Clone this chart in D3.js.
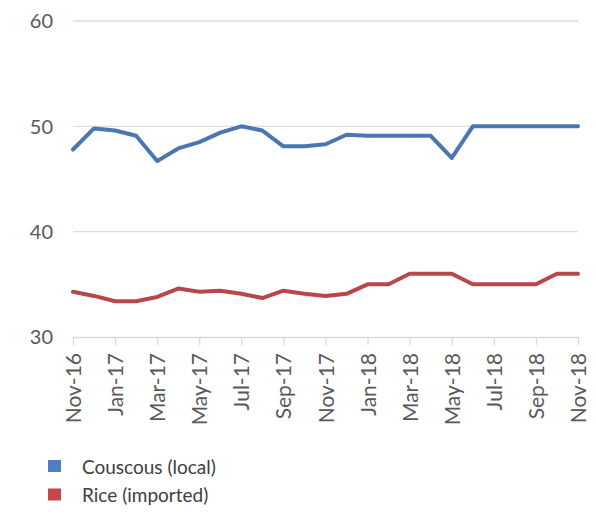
<!DOCTYPE html>
<html><head><meta charset="utf-8">
<script src="https://cdn.jsdelivr.net/npm/d3@7"></script>
<style>html,body{margin:0;padding:0;background:#fff;}svg{display:block;}</style>
</head><body>
<svg id="c" width="596" height="516"></svg>
<script>
const months = ["Nov-16","Dec-16","Jan-17","Feb-17","Mar-17","Apr-17","May-17","Jun-17","Jul-17","Aug-17","Sep-17","Oct-17","Nov-17","Dec-17","Jan-18","Feb-18","Mar-18","Apr-18","May-18","Jun-18","Jul-18","Aug-18","Sep-18","Oct-18","Nov-18"];
const couscous = [47.8,49.8,49.6,49.1,46.7,47.9,48.5,49.4,50,49.6,48.1,48.1,48.3,49.2,49.1,49.1,49.1,49.1,47,50,50,50,50,50,50];
const rice = [34.3,33.9,33.4,33.4,33.8,34.6,34.3,34.4,34.1,33.7,34.4,34.1,33.9,34.1,35,35,36,36,36,35,35,35,35,36,36];
const seriesNames = ["Couscous (local)","Rice (imported)"];
const yTicks = [30,40,50,60];
const tickLabels = months.filter((d,i)=>i%2===0);

const colors = ["#4a77b2","#b8474c"];
const legendColors = ["#4f7fc0","#c4474a"];
const svg = d3.select("#c");
const font = "Lato, 'Open Sans', sans-serif";

const x = d3.scalePoint().domain(months).range([73,578]);
const y = d3.scaleLinear().domain([30,60]).range([337,21]);

// gridlines
svg.append("g").selectAll("line").data(yTicks.filter(v=>v>30)).join("line")
  .attr("x1",73).attr("x2",578).attr("y1",d=>y(d)).attr("y2",d=>y(d))
  .attr("stroke","#dedede").attr("stroke-width",1.3);

// y labels
svg.append("g").selectAll("text").data(yTicks).join("text")
  .attr("x",53).attr("y",d=>y(d)).attr("dy","0.36em")
  .attr("text-anchor","end").attr("font-family",font).attr("font-size",20)
  .attr("fill","#595959").text(d=>d);

// x axis
const xAxis = d3.axisBottom(x).tickValues(tickLabels).tickSize(8).tickSizeOuter(0).tickPadding(0);
const gx = svg.append("g").attr("transform",`translate(0,${y(30)})`).call(xAxis);
gx.select(".domain").attr("stroke","#d9d9d9").attr("stroke-width",1.3);
gx.selectAll(".tick line").attr("stroke","#d9d9d9").attr("stroke-width",1.3);
gx.selectAll(".tick text")
  .attr("font-family",font).attr("font-size",21).attr("fill","#595959")
  .attr("transform","rotate(-90)")
  .attr("text-anchor","end")
  .attr("x",-16).attr("y",0).attr("dy","0.36em");

// lines
const line = d3.line().x((d,i)=>x(months[i])).y(d=>y(d)).curve(d3.curveLinear);
[couscous,rice].forEach((s,k)=>{
  svg.append("path").datum(s).attr("d",line).attr("fill","none")
    .attr("stroke",colors[k]).attr("stroke-width",4)
    .attr("stroke-linejoin","round").attr("stroke-linecap","round");
});

// legend
const leg = svg.append("g");
seriesNames.forEach((n,k)=>{
  leg.append("rect").attr("x",48).attr("y",460+k*28.5).attr("width",13).attr("height",12)
    .attr("fill",legendColors[k]);
  leg.append("text").attr("x",82).attr("y",467+k*28.5).attr("dy","0.36em")
    .attr("font-family",font).attr("font-size",19).attr("fill","#404040").text(n);
});
</script>
</body></html>
